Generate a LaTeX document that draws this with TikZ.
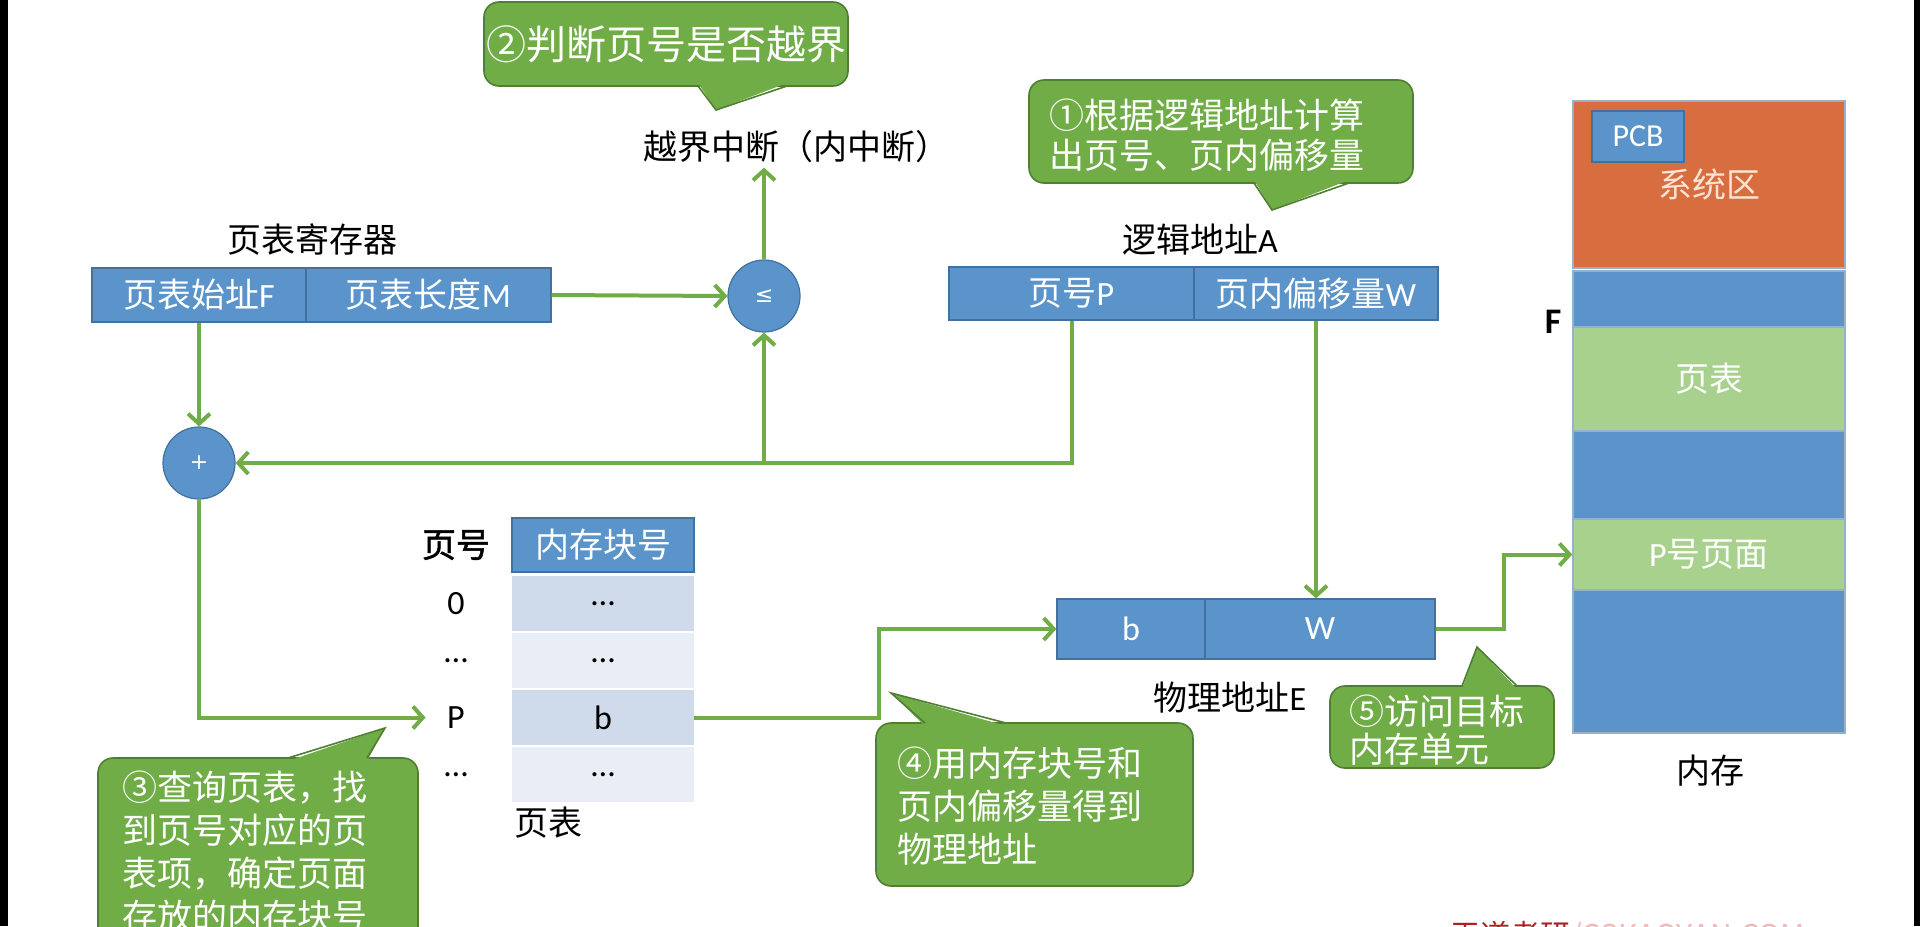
\documentclass[tikz,border=0pt]{standalone}
\usepackage{fontspec}
\setmainfont{Noto Sans CJK SC}
\newfontfamily\lat{Carlito}
\newfontfamily\dv{DejaVu Sans}
\newfontfamily\cjkb[FakeBold=1.5]{Noto Sans CJK SC}
\usetikzlibrary{arrows.meta}
\definecolor{gline}{HTML}{70AD47}
\definecolor{cfill}{HTML}{70AD47}
\definecolor{cborder}{HTML}{507E32}
\definecolor{bblue}{HTML}{5B94CA}
\definecolor{bborder}{HTML}{41719C}
\definecolor{lgreen}{HTML}{A9D18E}
\definecolor{orng}{HTML}{D86E3F}
\definecolor{peach}{HTML}{FBE4D5}
\definecolor{rowA}{HTML}{CFDAEA}
\definecolor{rowB}{HTML}{E9EEF6}
\definecolor{wmdark}{HTML}{B02020}
\definecolor{wmlight}{HTML}{F2B8B8}
\begin{document}
\begin{tikzpicture}[x=0.5pt,y=-0.5pt,
  font=\fontsize{17pt}{20pt}\selectfont,
  every node/.style={inner sep=2pt},
  cell/.style={draw=bborder, line width=0.6pt, fill=bblue, text=white, inner sep=0pt},
  circ/.style={circle, draw=bborder, line width=0.6pt, fill=bblue, text=white, inner sep=0pt, minimum size=36pt, font=\dv\fontsize{11pt}{13pt}\selectfont},
  mem/.style={draw=bborder!55!white, line width=0.8pt, minimum width=136pt, inner sep=0pt, text=white},
  trow/.style={minimum width=91pt, minimum height=27.5pt, inner sep=0pt, text=black},
  lbl/.style={minimum width=30pt, inner sep=0pt, text=black},
  conn/.style={draw=gline, line width=2pt, -{Straight Barb[length=5pt,width=11pt]}},
  cbox/.style={fill=cfill, draw=cborder, line width=0.8pt, rounded corners=7.5pt},
  cedge/.style={draw=cborder, line width=0.8pt},
  ctext/.style={text=white, align=left, inner sep=0pt, anchor=west}
]
\useasboundingbox (0,0) rectangle (1920,926);
\fill[white] (0,0) rectangle (1920,926);
\fill[black] (0,0) rectangle (8,926);
\fill[black] (1914,0) rectangle (1920,926);

% page table register
\node (reg) at (312,240) {页表寄存器};
\node[cell, minimum width=107pt, minimum height=27pt] (F) at (199,295) {页表始址{\lat F}};
\node[cell, minimum width=122.5pt, minimum height=27pt] (M) at (428.5,295) {页表长度{\lat M}};

% comparators
\node[circ] (le) at (764,296) {≤};
\node[circ] (plus) at (199,463) {+};
\node (yue) at (796,147) {越界中断（内中断）};

% logical address
\node (la) at (1200,240) {逻辑地址{\lat A}};
\node[cell, minimum width=122.5pt, minimum height=26.5pt] (P) at (1071.5,293.5) {页号{\lat P}};
\node[cell, minimum width=122pt, minimum height=26.5pt] (W) at (1316,293.5) {页内偏移量{\lat W}};

% physical address
\node[cell, minimum width=74pt, minimum height=30pt] (b) at (1131,629) {\lat b};
\node[cell, minimum width=115pt, minimum height=30pt] (W2) at (1320,629) {\lat W};
\node (pa) at (1230,698) {物理地址{\lat E}};

% memory
\node[mem, fill=orng, minimum height=83.5pt, text=peach] (sys) at (1709,184.5) {系统区};
\node[cell, minimum width=46pt, minimum height=25.5pt, font=\lat\fontsize{16pt}{18pt}\selectfont] (pcb) at (1638,136.5) {PCB};
\node[mem, fill=bblue, minimum height=28pt] (m1) at (1709,299) {};
\node[mem, fill=lgreen, minimum height=52pt] (pt) at (1709,379) {页表};
\node[mem, fill=bblue, minimum height=44pt] (m2) at (1709,475) {};
\node[mem, fill=lgreen, minimum height=35.5pt] (pp) at (1709,554.5) {{\lat P}号页面};
\node[mem, fill=bblue, minimum height=71.5pt] (m3) at (1709,661.5) {};
\node (Flbl) at (1553,322) {\lat\bfseries\fontsize{18pt}{20pt}\selectfont F};
\node (memlbl) at (1710,771) {内存};

% page table
\node[lbl] (hdrlbl) at (456,545) {\cjkb 页号};
\node[cell, minimum width=91pt, minimum height=27pt] (hdr) at (603,545) {内存块号};
\node[trow, fill=rowA] (r0) at (603,603.5) {\lat …};
\node[trow, fill=rowB] (r1) at (603,660.5) {\lat …};
\node[trow, fill=rowA] (r2) at (603,717.5) {\lat b};
\node[trow, fill=rowB] (r3) at (603,774.5) {\lat …};
\node[lbl] (l0) at (456,603.5) {\lat 0};
\node[lbl] (l1) at (456,660.5) {\lat …};
\node[lbl] (l2) at (456,717.5) {\lat P};
\node[lbl] (l3) at (456,774.5) {\lat …};
\node (ptl) at (548,823) {页表};

% connectors
\draw[conn] (F.south) -- (plus.north);
\draw[conn] (M.east) -- (le.west);
\draw[conn] (le.north) -- (le.north |- yue.south);
\draw[conn] (P.south) |- (plus.east);
\coordinate (br) at (764,463);
\draw[conn] (br) -- (le.south);
\draw[conn] (W.south) -- (W.south |- W2.north);
\draw[conn] (plus.south) |- (l2.west);
\coordinate (j1) at (879,629);
\draw[conn] (r2.east) -- (r2.east -| j1) -- (j1) -- (b.west);
\coordinate (j2) at (1504,629);
\draw[conn] (W2.east) -- (j2) |- (pp.west);

% callout 2
\path[cbox] (484,2) rectangle (848,86);
\fill[cfill] (698,83) -- (716,110) -- (787,83) -- cycle;
\draw[cedge] (698,86) -- (716,110) -- (787,86);
\node[text=white, inner sep=0pt, font=\fontsize{20pt}{22pt}\selectfont] (c2) at (666,44) {②判断页号是否越界};

% callout 1
\path[cbox] (1029,80) rectangle (1413,183);
\fill[cfill] (1254,180) -- (1272,210) -- (1349,180) -- cycle;
\draw[cedge] (1254,183) -- (1272,210) -- (1349,183);
\node[ctext, font=\fontsize{17.5pt}{20pt}\selectfont] (c1) at (1049,135) {①根据逻辑地址计算\\出页号、页内偏移量};

% callout 3
\path[cbox] (98,758) rectangle (418,980);
\fill[cfill] (288,761) -- (385,728) -- (367,761) -- cycle;
\draw[cedge] (288,758) -- (385,728) -- (367,758);
\node[ctext, font=\fontsize{17.5pt}{21.5pt}\selectfont] (c3) at (122,852) {③查询页表，找\\到页号对应的页\\表项，确定页面\\存放的内存块号};

% callout 4
\path[cbox] (876,723) rectangle (1193,886);
\fill[cfill] (925,726) -- (891,693) -- (1006,726) -- cycle;
\draw[cedge] (925,723) -- (891,693) -- (1006,723);
\node[ctext, font=\fontsize{17.5pt}{21.5pt}\selectfont] (c4) at (897,806) {④用内存块号和\\页内偏移量得到\\物理地址};

% callout 5
\path[cbox] (1330,686) rectangle (1554,768);
\fill[cfill] (1462,689) -- (1477,647) -- (1517,689) -- cycle;
\draw[cedge] (1462,686) -- (1477,647) -- (1517,686);
\node[ctext, font=\fontsize{17.5pt}{19pt}\selectfont] (c5) at (1349,730) {⑤访问目标\\内存单元};

% watermark (cut off at bottom)
\node[anchor=north west, inner sep=0pt, font=\fontsize{15pt}{18pt}\selectfont] (wm) at (1450,921) {\textcolor{wmdark}{王道考研}\textcolor{wmlight}{/CSKAOYAN.COM}};
\end{tikzpicture}
\end{document}
